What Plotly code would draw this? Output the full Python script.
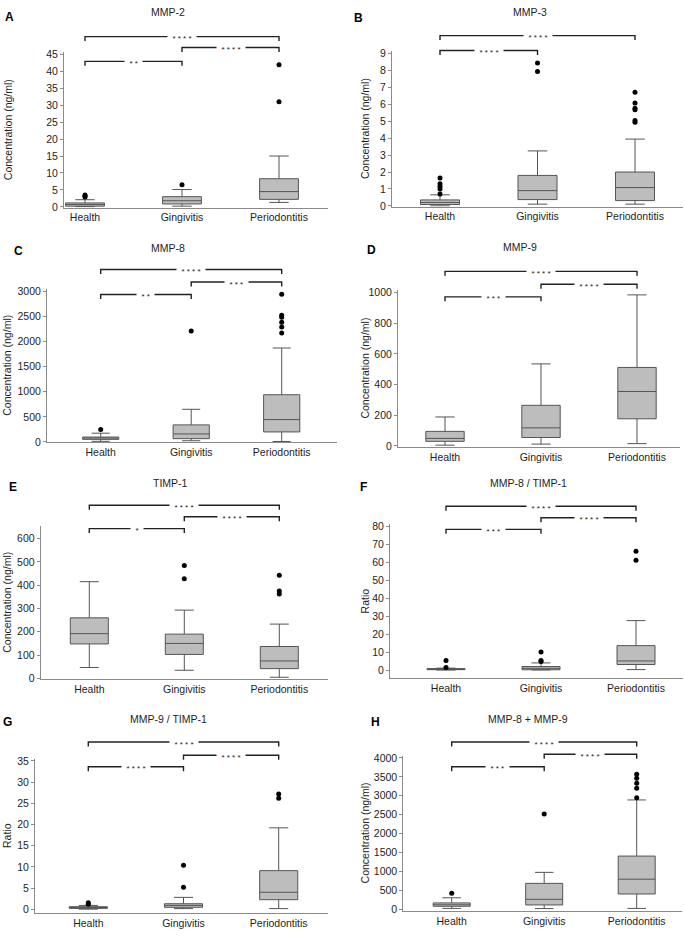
import plotly.graph_objects as go

W, H = 685, 936
categories = ["Health", "Gingivitis", "Periodontitis"]

# ---- data ----
# MMP-2
mmp2_q1 = [0.2, 0.85, 2.2]
mmp2_med = [0.7, 1.8, 4.5]
mmp2_q3 = [1.15, 3.0, 8.3]
mmp2_lo = [0.05, 0.2, 1.3]
mmp2_hi = [2.1, 5.1, 15.0]
mmp2_out = [[2.9, 3.2, 3.5], [6.5], [31.0, 42.0]]
# MMP-3
mmp3_q1 = [0.08, 0.37, 0.31]
mmp3_med = [0.2, 0.9, 1.08]
mmp3_q3 = [0.35, 1.8, 2.0]
mmp3_lo = [0.0, 0.1, 0.1]
mmp3_hi = [0.65, 3.25, 3.95]
mmp3_out = [[0.7, 1.0, 1.15, 1.3, 1.65], [7.95, 8.45], [4.95, 5.05, 5.68, 5.78, 6.08, 6.72]]
# MMP-8
mmp8_q1 = [52, 66, 200]
mmp8_med = [79, 160, 446]
mmp8_q3 = [98, 340, 940]
mmp8_lo = [13, 25, 10]
mmp8_hi = [175, 650, 1870]
mmp8_out = [[250], [2210], [2170, 2290, 2380, 2480, 2520, 2940]]
# MMP-9
mmp9_q1 = [30, 55, 177]
mmp9_med = [49, 118, 355]
mmp9_q3 = [95, 265, 512]
mmp9_lo = [5, 12, 15]
mmp9_hi = [189, 535, 985]
mmp9_out = [[], [], []]
# TIMP-1
timp1_q1 = [148, 103, 42]
timp1_med = [192, 150, 75]
timp1_q3 = [260, 190, 137]
timp1_lo = [47, 35, 5]
timp1_hi = [415, 293, 233]
timp1_out = [[], [428, 484], [362, 375, 443]]
# MMP-8 / TIMP-1
r8_q1 = [0.25, 0.2, 3.1]
r8_med = [0.5, 1.0, 5.1]
r8_q3 = [0.85, 2.0, 13.6]
r8_lo = [0.05, 0.1, 0.3]
r8_hi = [1.1, 4.0, 27.5]
r8_out = [[1.4, 5.4], [4.8, 5.3, 10.0], [61.0, 66.0]]
# MMP-9 / TIMP-1
r9_q1 = [0.2, 0.45, 2.25]
r9_med = [0.4, 0.9, 4.0]
r9_q3 = [0.6, 1.3, 9.1]
r9_lo = [0.02, 0.15, 0.15]
r9_hi = [0.9, 2.8, 19.2]
r9_out = [[1.2, 1.5], [5.2, 10.4], [26.2, 27.2]]
# MMP-8 + MMP-9
sum_q1 = [86, 121, 410]
sum_med = [125, 270, 800]
sum_q3 = [175, 690, 1410]
sum_lo = [30, 26, 30]
sum_hi = [310, 980, 2890]
sum_out = [[430], [2520], [2950, 3200, 3330, 3460, 3570]]

titles = ["MMP-2", "MMP-3", "MMP-8", "MMP-9", "TIMP-1", "MMP-8 / TIMP-1", "MMP-9 / TIMP-1", "MMP-8 + MMP-9"]
letters = ["A", "B", "C", "D", "E", "F", "G", "H"]
ytitles = ["Concentration (ng/ml)"] * 5 + ["Ratio", "Ratio", "Concentration (ng/ml)"]
ydticks = [5, 1, 500, 200, 100, 10, 5, 500]
ytickmax = [45, 9, 3000, 1000, 600, 80, 35, 4000]
stars = [
    ["****", "****", "**"],
    ["****", None, "****"],
    ["****", "***", "**"],
    ["****", "****", "***"],
    ["****", "****", "*"],
    ["****", "****", "***"],
    ["****", "****", "****"],
    ["****", "****", "***"],
]
pairs = [(0, 2), (1, 2), (0, 1)]

stats = [
    (mmp2_q1, mmp2_med, mmp2_q3, mmp2_lo, mmp2_hi, mmp2_out),
    (mmp3_q1, mmp3_med, mmp3_q3, mmp3_lo, mmp3_hi, mmp3_out),
    (mmp8_q1, mmp8_med, mmp8_q3, mmp8_lo, mmp8_hi, mmp8_out),
    (mmp9_q1, mmp9_med, mmp9_q3, mmp9_lo, mmp9_hi, mmp9_out),
    (timp1_q1, timp1_med, timp1_q3, timp1_lo, timp1_hi, timp1_out),
    (r8_q1, r8_med, r8_q3, r8_lo, r8_hi, r8_out),
    (r9_q1, r9_med, r9_q3, r9_lo, r9_hi, r9_out),
    (sum_q1, sum_med, sum_q3, sum_lo, sum_hi, sum_out),
]

# ---- layout geometry (pixels) ----
geo = [
    dict(xl=64, xr=328, c0=85, c2=279, p0=204, pm=50, pt=48, pb=205,
         br=[32, 43, 57], ytx=8, tt=(168, 7.5), lt=(3, 12.5)),
    dict(xl=392, xr=683, c0=440, c2=635, p0=203, pm=49.3, pt=46.7, pb=204,
         br=[31, None, 46], ytx=365, tt=(530, 7), lt=(352, 13.5)),
    dict(xl=47, xr=337, c0=100.7, c2=281.7, p0=441.7, pm=289.3, pt=287.3, pb=442,
         br=[267.3, 280, 292.7], ytx=7, tt=(168, 246), lt=(12, 248.5)),
    dict(xl=398, xr=680, c0=445, c2=637, p0=445.7, pm=290.7, pt=288.3, pb=446.7,
         br=[269.3, 282.3, 295], ytx=365, tt=(520, 245), lt=(365, 248)),
    dict(xl=40.7, xr=328, c0=89.3, c2=279.3, p0=680.7, pm=539.3, pt=526.7, pb=681.7,
         br=[505.7, 517.3, 529.3], ytx=7, tt=(170, 483), lt=(7, 487)),
    dict(xl=390, xr=683, c0=446, c2=636, p0=672.3, pm=526.7, pt=525, pb=680.7,
         br=[506.7, 518.3, 530], ytx=365, tt=(528, 483), lt=(358, 487)),
    dict(xl=35, xr=328, c0=88.3, c2=278.7, p0=914, pm=764, pt=761.7, pb=918.3,
         br=[745, 758.3, 770], ytx=7, tt=(168, 722), lt=(1, 725)),
    dict(xl=403.3, xr=681.7, c0=451.7, c2=636.7, p0=914.3, pm=761, pt=759, pb=915.7,
         br=[745, 757.3, 770], ytx=365, tt=(528, 722), lt=(369, 725)),
]

FONT = "Arial, Liberation Sans, sans-serif"
TXT = "#1e1e1e"
AXC = "#8a8a8a"

fig = go.Figure()
layout = dict(width=W, height=H, margin=dict(l=0, r=0, t=0, b=0),
              paper_bgcolor="white", plot_bgcolor="white", showlegend=False,
              font=dict(family=FONT, size=10.5, color=TXT))
shapes, annotations = [], []

for i in range(8):
    n = "" if i == 0 else str(i + 1)
    g = geo[i]
    q1, med, q3, lo, hi, outs = stats[i]
    xs = (g["c2"] - g["c0"]) / 2.0
    xrng = [(g["xl"] - g["c0"]) / xs, (g["xr"] - g["c0"]) / xs]
    ys = (g["p0"] - g["pm"]) / ytickmax[i]
    yrng = [(g["p0"] - g["pb"]) / ys, (g["p0"] - g["pt"]) / ys]

    fig.add_trace(go.Box(
        x=[0, 1, 2], q1=q1, median=med, q3=q3, lowerfence=lo, upperfence=hi,
        width=0.4, whiskerwidth=0.5, fillcolor="#bdbdbd",
        line=dict(color="#555555", width=1), boxpoints=False,
        xaxis="x" + n, yaxis="y" + n, hoverinfo="skip"))
    ox, oy = [], []
    for k in range(3):
        for v in outs[k]:
            ox.append(k)
            oy.append(v)
    fig.add_trace(go.Scatter(x=ox, y=oy, mode="markers",
                             marker=dict(color="black", size=5),
                             xaxis="x" + n, yaxis="y" + n, hoverinfo="skip"))

    layout["xaxis" + n] = dict(
        domain=[g["xl"] / W, g["xr"] / W], range=xrng, anchor="y" + n,
        tickvals=[0, 1, 2], ticktext=categories, showline=True, linecolor=AXC,
        linewidth=1, ticks="", showgrid=False, zeroline=False,
        tickfont=dict(size=10.5, color=TXT), fixedrange=True)
    layout["yaxis" + n] = dict(
        domain=[1 - g["pb"] / H, 1 - g["pt"] / H], range=yrng, anchor="x" + n,
        tick0=0, dtick=ydticks[i], showline=True, linecolor=AXC, linewidth=1,
        ticks="outside", ticklen=3, tickcolor=AXC, showgrid=False, zeroline=False,
        tickfont=dict(size=10.5, color=TXT), fixedrange=True)

    span = g["pb"] - g["pt"]
    tick = 4.5 / span
    for (a, b), lvl, st in zip(pairs, g["br"], stars[i]):
        if lvl is None or st is None:
            continue
        yd = (g["pb"] - lvl) / span
        shapes.append(dict(
            type="path", xref="x" + n, yref="y" + n + " domain", layer="below",
            path=f"M {a},{yd - tick} L {a},{yd} L {b},{yd} L {b},{yd - tick}",
            line=dict(color="#222222", width=1.4)))
        annotations.append(dict(
            x=(a + b) / 2.0, y=yd, xref="x" + n, yref="y" + n + " domain",
            xanchor="center", yanchor="middle",
            text="\u00a0\u00a0" + " ".join(st) + "\u00a0\u00a0", showarrow=False,
            bgcolor="white", borderpad=0, yshift=-2,
            font=dict(size=8, color="#222222")))

    annotations.append(dict(x=g["tt"][0] / W, y=1 - g["tt"][1] / H, xref="paper", yref="paper",
                            text=titles[i], showarrow=False, xanchor="center", yanchor="middle",
                            font=dict(size=10.5, color=TXT)))
    annotations.append(dict(x=g["lt"][0] / W, y=1 - g["lt"][1] / H, xref="paper", yref="paper",
                            text="<b>" + letters[i] + "</b>", showarrow=False,
                            xanchor="left", yanchor="middle",
                            font=dict(size=12, color="black")))
    annotations.append(dict(x=g["ytx"] / W, y=1 - (g["pt"] + g["pb"]) / 2.0 / H,
                            xref="paper", yref="paper", text=ytitles[i], textangle=-90,
                            showarrow=False, xanchor="center", yanchor="middle",
                            font=dict(size=10.5, color=TXT)))

layout["shapes"] = shapes
layout["annotations"] = annotations
fig.update_layout(**layout)

fig.write_html("out.html", config={"displayModeBar": False},
               post_script="document.body.style.margin='0';")
